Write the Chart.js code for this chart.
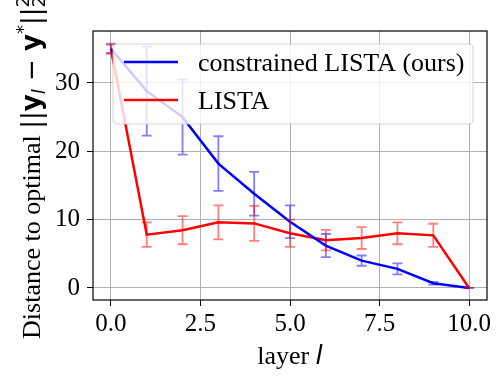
<!DOCTYPE html>
<html><head><meta charset="utf-8">
<script src="https://cdn.jsdelivr.net/npm/chart.js@4"></script>
<style>html,body{margin:0;padding:0;background:#fff}#wrap{width:503px;height:376px}</style>
</head><body><div id="wrap"><canvas id="c" width="503" height="376"></canvas></div>
<script>
const layers = [0, 1, 2, 3, 4, 5, 6, 7, 8, 9, 10];
const constrainedMean = [35.0, 28.8, 25.0, 18.2, 13.8, 9.7, 6.2, 4.0, 2.8, 0.7, 0.0];
const constrainedErr  = [0.6, 6.5, 5.5, 4.0, 3.2, 2.4, 1.7, 0.75, 0.8, 0.2, 0.0];
const listaMean = [35.0, 7.8, 8.45, 9.6, 9.45, 8.0, 7.0, 7.3, 8.0, 7.7, 0.0];
const listaErr  = [0.75, 1.8, 2.05, 2.5, 2.55, 2.0, 1.5, 1.6, 1.6, 1.7, 0.0];
const xTicks = [0, 2.5, 5, 7.5, 10];
const yTicks = [0, 10, 20, 30];
const seriesNames = ['constrained LISTA (ours)', 'LISTA'];
const seriesColors = ['#0000ff', '#ff0000'];
const errColors = ['rgba(0,0,255,0.5)', 'rgba(255,0,0,0.5)'];

const SERIF = '"Liberation Serif", "Times New Roman", serif';
const SANS = '"DejaVu Sans", sans-serif';

function pts(mean) { return layers.map((x, i) => ({ x: x, y: mean[i] })); }

const errorBars = {
  id: 'errorBars',
  afterDatasetsDraw(chart) {
    const ctx = chart.ctx, xs = chart.scales.x, ys = chart.scales.y;
    const sets = [[constrainedMean, constrainedErr], [listaMean, listaErr]];
    ctx.save();
    sets.forEach((s, k) => {
      ctx.strokeStyle = errColors[k];
      ctx.lineWidth = 1.8;
      layers.forEach((lx, i) => {
        const px = xs.getPixelForValue(lx);
        const y1 = ys.getPixelForValue(s[0][i] + s[1][i]);
        const y2 = ys.getPixelForValue(s[0][i] - s[1][i]);
        ctx.beginPath();
        ctx.moveTo(px, y1); ctx.lineTo(px, y2);
        ctx.moveTo(px - 5, y1); ctx.lineTo(px + 5, y1);
        ctx.moveTo(px - 5, y2); ctx.lineTo(px + 5, y2);
        ctx.stroke();
      });
    });
    const a = chart.chartArea;
    ctx.strokeStyle = '#000';
    ctx.lineWidth = 1.2;
    ctx.strokeRect(a.left, a.top, a.right - a.left, a.bottom - a.top);
    ctx.restore();
  },
  afterDraw(chart) {
    const ctx = chart.ctx;
    ctx.save();
    const lx = 113, ly = 44, lw = 360, lh = 80, r = 4;
    ctx.beginPath();
    ctx.moveTo(lx + r, ly);
    ctx.arcTo(lx + lw, ly, lx + lw, ly + lh, r);
    ctx.arcTo(lx + lw, ly + lh, lx, ly + lh, r);
    ctx.arcTo(lx, ly + lh, lx, ly, r);
    ctx.arcTo(lx, ly, lx + lw, ly, r);
    ctx.closePath();
    ctx.fillStyle = 'rgba(255,255,255,0.8)';
    ctx.fill();
    ctx.strokeStyle = 'rgba(204,204,204,0.8)';
    ctx.lineWidth = 1;
    ctx.stroke();
    const rows = [62, 100];
    seriesNames.forEach((n, k) => {
      ctx.strokeStyle = seriesColors[k];
      ctx.lineWidth = 2.5;
      ctx.beginPath(); ctx.moveTo(124, rows[k]); ctx.lineTo(178, rows[k]); ctx.stroke();
      ctx.fillStyle = '#000';
      ctx.font = '26px ' + SERIF;
      ctx.textBaseline = 'alphabetic';
      ctx.textAlign = 'left';
      ctx.fillText(n, 198, rows[k] + 9);
    });
    // x axis title
    ctx.font = '26px ' + SERIF;
    const t1 = 'layer ';
    const w1 = ctx.measureText(t1).width;
    ctx.font = 'italic 26px ' + SANS;
    const w2 = ctx.measureText('l').width;
    const a = chart.chartArea;
    let sx = (a.left + a.right) / 2 - (w1 + w2) / 2;
    ctx.fillStyle = '#000';
    ctx.textBaseline = 'alphabetic';
    ctx.font = '26px ' + SERIF;
    ctx.fillText(t1, sx, 364);
    ctx.font = 'italic 26px ' + SANS;
    ctx.fillText('l', sx + w1, 364);
    // y axis title
    const segs = [
      { t: 'Distance to optimal ', f: '26px ' + SERIF, dy: 0 },
      { t: '||', f: '26px ' + SANS, dy: 0 },
      { t: 'y', f: 'bold 26px ' + SANS, dy: 0 },
      { t: 'l', f: 'italic 18px ' + SANS, dy: 5 },
      { t: ' \u2212 ', f: '26px ' + SANS, dy: 0 },
      { t: 'y', f: 'bold 26px ' + SANS, dy: 0 },
      { t: '*', f: '18px ' + SANS, dy: -11 },
      { t: '||', f: '26px ' + SANS, dy: 0 },
      { t: '2', f: '18px ' + SANS, dy: -11, stackNext: true },
      { t: '2', f: '18px ' + SANS, dy: 5 }
    ];
    let total = 0;
    segs.forEach(s => { ctx.font = s.f; s.w = ctx.measureText(s.t).width; if (!s.stackNext) total += s.w; });
    ctx.translate(40, (a.top + a.bottom) / 2 + 2);
    ctx.rotate(-Math.PI / 2);
    let cx = -total / 2;
    segs.forEach(s => {
      ctx.font = s.f;
      ctx.fillText(s.t, cx, s.dy);
      if (!s.stackNext) cx += s.w;
    });
    ctx.restore();
  }
};

new Chart(document.getElementById('c'), {
  type: 'line',
  data: {
    datasets: [
      { label: seriesNames[0], data: pts(constrainedMean), borderColor: seriesColors[0], borderWidth: 2.5, pointRadius: 0, tension: 0, fill: false },
      { label: seriesNames[1], data: pts(listaMean), borderColor: seriesColors[1], borderWidth: 2.5, pointRadius: 0, tension: 0, fill: false }
    ]
  },
  options: {
    responsive: false,
    animation: false,
    devicePixelRatio: 1,
    layout: { padding: { left: 0, right: 16, top: 31, bottom: 0 } },
    plugins: { legend: { display: false }, tooltip: { enabled: false } },
    scales: {
      x: {
        type: 'linear', min: -0.5, max: 10.5,
        afterBuildTicks: s => { s.ticks = xTicks.map(v => ({ value: v })); },
        afterFit: s => { s.height = 76; },
        grid: { color: '#b0b0b0', lineWidth: 1, tickColor: '#000', tickLength: 6, drawTicks: true },
        border: { display: false },
        ticks: { color: '#000', font: { family: SERIF, size: 25 }, padding: 3, maxRotation: 0, autoSkip: false,
                 callback: v => Number(v).toFixed(1) }
      },
      y: {
        type: 'linear', min: -1.76, max: 37.6,
        afterBuildTicks: s => { s.ticks = yTicks.map(v => ({ value: v })); },
        afterFit: s => { s.width = 93; },
        grid: { color: '#b0b0b0', lineWidth: 1, tickColor: '#000', tickLength: 6, drawTicks: true },
        border: { display: false },
        ticks: { color: '#000', font: { family: SERIF, size: 25 }, padding: 7, autoSkip: false,
                 callback: v => String(v) }
      }
    }
  },
  plugins: [errorBars]
});
</script>
</body></html>
